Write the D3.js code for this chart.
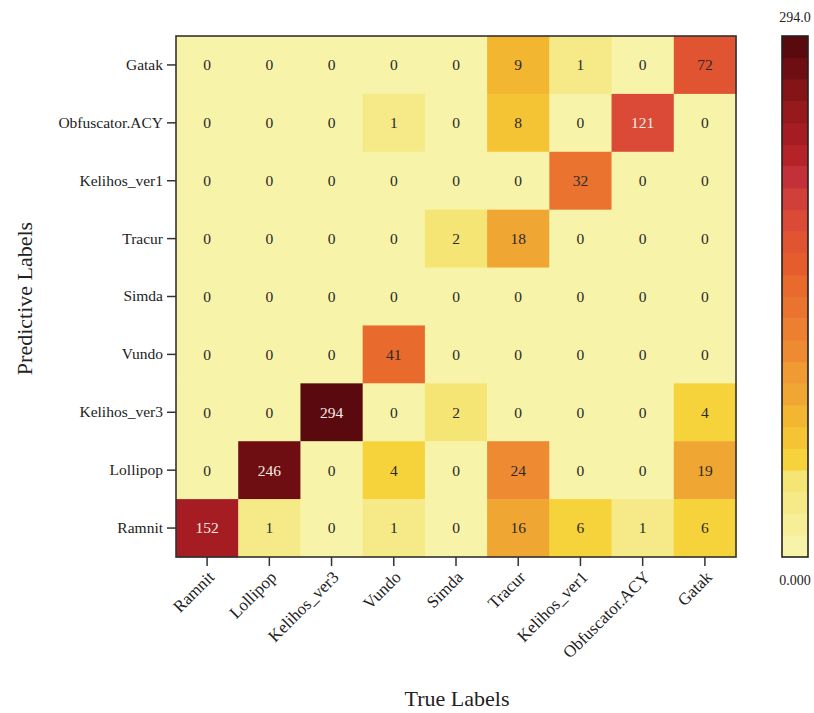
<!DOCTYPE html>
<html>
<head>
<meta charset="utf-8">
<script src="https://cdn.jsdelivr.net/npm/d3@7"></script>
<style>
  html, body { margin: 0; padding: 0; background: #fff; }
  svg { display: block; font-family: "Liberation Serif", "Times New Roman", serif; }
</style>
</head>
<body>
<svg id="chart" width="814" height="713"></svg>
<script>
// ---------- data ----------
const trueLabels = ["Ramnit", "Lollipop", "Kelihos_ver3", "Vundo", "Simda", "Tracur", "Kelihos_ver1", "Obfuscator.ACY", "Gatak"];
const predLabels = ["Gatak", "Obfuscator.ACY", "Kelihos_ver1", "Tracur", "Simda", "Vundo", "Kelihos_ver3", "Lollipop", "Ramnit"];
// rows follow predLabels (top to bottom), columns follow trueLabels
const rowGatak        = [0, 0, 0, 0, 0, 9, 1, 0, 72];
const rowObfuscator   = [0, 0, 0, 1, 0, 8, 0, 121, 0];
const rowKelihosVer1  = [0, 0, 0, 0, 0, 0, 32, 0, 0];
const rowTracur       = [0, 0, 0, 0, 2, 18, 0, 0, 0];
const rowSimda        = [0, 0, 0, 0, 0, 0, 0, 0, 0];
const rowVundo        = [0, 0, 0, 41, 0, 0, 0, 0, 0];
const rowKelihosVer3  = [0, 0, 294, 0, 2, 0, 0, 0, 4];
const rowLollipop     = [0, 246, 0, 4, 0, 24, 0, 0, 19];
const rowRamnit       = [152, 1, 0, 1, 0, 16, 6, 1, 6];
const colorbarMin = "0.000";
const colorbarMax = "294.0";

const matrix = [rowGatak, rowObfuscator, rowKelihosVer1, rowTracur, rowSimda, rowVundo, rowKelihosVer3, rowLollipop, rowRamnit];

// discrete colour map (bottom -> top of the colour bar)
const bandColors = ["#f7f3a9","#f6ef98","#f5ea87","#f5e574","#f6d23b","#f4c435","#f2b631","#f0a632",
  "#f09a32","#ee8a31","#ec8030","#ea742f","#e86a2d","#e55d2c","#e05432","#da4a36",
  "#d03f3a","#c4303a","#b52328","#a51d22","#961a1c","#851416","#6e0d12","#5a0a0f"];

// ---------- layout ----------
const svg = d3.select("#chart");
const plot = { x: 176, y: 36, w: 560, h: 521 };
const cbar = { x: 782, y: 36, w: 26, h: 521 };

const x = d3.scaleBand().domain(trueLabels).range([plot.x, plot.x + plot.w]);
const y = d3.scaleBand().domain(predLabels).range([plot.y, plot.y + plot.h]);

// value -> band index (non-uniform colour normalisation as in the figure)
const bandIndex = d3.scaleLinear()
  .domain([0, 1, 2, 4, 8, 9, 19, 24, 32, 41, 72, 121, 152, 246, 294])
  .range([0, 1.5, 3, 4, 4.6, 6, 7, 8.6, 11, 11.6, 13.5, 14.6, 19, 22, 23])
  .clamp(true);
const color = v => bandColors[Math.round(bandIndex(v))];

const cells = [];
matrix.forEach((row, i) => row.forEach((v, j) => cells.push({ r: predLabels[i], c: trueLabels[j], v })));

const g = svg.append("g");
g.selectAll("rect.cell").data(cells).join("rect")
  .attr("class", "cell")
  .attr("x", d => x(d.c))
  .attr("y", d => y(d.r))
  .attr("width", x.bandwidth() + 0.5)
  .attr("height", y.bandwidth() + 0.5)
  .attr("fill", d => color(d.v));

g.selectAll("text.val").data(cells).join("text")
  .attr("class", "val")
  .attr("x", d => x(d.c) + x.bandwidth() / 2)
  .attr("y", d => y(d.r) + y.bandwidth() / 2)
  .attr("dy", "0.35em")
  .attr("text-anchor", "middle")
  .attr("font-size", 15.5)
  .attr("fill", d => d.v > 100 ? "#f4ece6" : "#2a2a2a")
  .text(d => d.v);

// frame
svg.append("rect")
  .attr("x", plot.x).attr("y", plot.y).attr("width", plot.w).attr("height", plot.h)
  .attr("fill", "none").attr("stroke", "#333").attr("stroke-width", 1.6);

// axes
const xAxis = svg.append("g")
  .attr("transform", `translate(0,${plot.y + plot.h})`)
  .call(d3.axisBottom(x).tickSize(9).tickSizeOuter(0));
xAxis.select(".domain").remove();
xAxis.selectAll("line").attr("stroke", "#333").attr("stroke-width", 1.5);
xAxis.selectAll("text")
  .attr("font-family", "Liberation Serif, serif")
  .attr("font-size", 17)
  .attr("fill", "#222")
  .attr("text-anchor", "end")
  .attr("dy", "0.35em")
  .attr("transform", "translate(4,17) rotate(-45)")
  .attr("x", 0).attr("y", 0);

const yAxis = svg.append("g")
  .attr("transform", `translate(${plot.x},0)`)
  .call(d3.axisLeft(y).tickSize(9).tickSizeOuter(0));
yAxis.select(".domain").remove();
yAxis.selectAll("line").attr("stroke", "#333").attr("stroke-width", 1.5);
yAxis.selectAll("text")
  .attr("font-family", "Liberation Serif, serif")
  .attr("font-size", 15.5)
  .attr("fill", "#222")
  .attr("x", -13);

// axis titles
svg.append("text")
  .attr("x", plot.x + plot.w / 2 + 1).attr("y", 706)
  .attr("text-anchor", "middle").attr("font-size", 22).attr("fill", "#222")
  .text("True Labels");
svg.append("text")
  .attr("transform", `translate(32,${plot.y + plot.h / 2 + 2}) rotate(-90)`)
  .attr("text-anchor", "middle").attr("font-size", 22).attr("fill", "#222")
  .text("Predictive Labels");

// colour bar
const cb = d3.scaleLinear().domain([0, bandColors.length]).range([cbar.y + cbar.h, cbar.y]);
svg.append("g").selectAll("rect").data(bandColors).join("rect")
  .attr("x", cbar.x)
  .attr("y", (d, i) => cb(i + 1))
  .attr("width", cbar.w)
  .attr("height", (d, i) => cb(i) - cb(i + 1) + 0.5)
  .attr("fill", d => d);
svg.append("rect")
  .attr("x", cbar.x).attr("y", cbar.y).attr("width", cbar.w).attr("height", cbar.h)
  .attr("fill", "none").attr("stroke", "#222").attr("stroke-width", 1.6);
svg.append("text")
  .attr("x", cbar.x + cbar.w / 2).attr("y", 22)
  .attr("text-anchor", "middle").attr("font-size", 14).attr("fill", "#222")
  .text(colorbarMax);
svg.append("text")
  .attr("x", cbar.x + cbar.w / 2).attr("y", 585)
  .attr("text-anchor", "middle").attr("font-size", 14).attr("fill", "#222")
  .text(colorbarMin);
</script>
</body>
</html>
